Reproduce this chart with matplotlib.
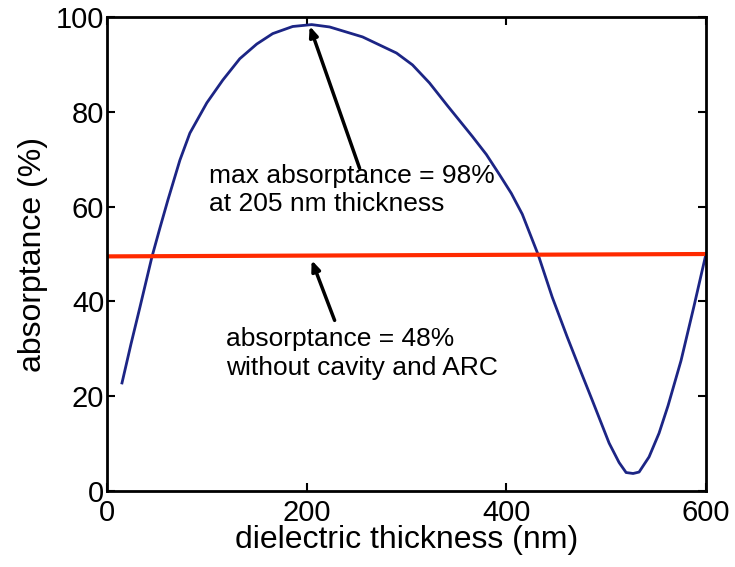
import matplotlib
matplotlib.use("Agg")
import matplotlib.pyplot as plt

plt.rcParams['font.family'] = ['Liberation Sans', 'DejaVu Sans']

# absorptance vs dielectric thickness
thickness = [15, 24, 33, 45, 53, 61, 73, 83, 100, 116, 133, 150, 166, 186, 205, 223,
             256, 290, 306, 323, 341, 366, 380, 393, 405, 416, 432, 446, 461, 475, 486,
             503, 513, 520, 527, 533, 543, 553, 562, 575, 588, 600]
absorptance = [22.8, 31.0, 38.8, 49.4, 55.5, 61.4, 69.8, 75.5, 81.9, 86.7, 91.2, 94.3,
               96.5, 98.0, 98.4, 97.9, 95.8, 92.4, 89.9, 86.1, 81.3, 74.8, 71.0, 66.8,
               62.8, 58.4, 49.8, 40.9, 32.5, 25.0, 19.2, 10.1, 6.0, 3.9, 3.7, 4.0, 7.2,
               12.2, 18.0, 27.5, 39.0, 50.0]

ref_x = [0, 600]
ref_y = [49.5, 50.0]

fig = plt.figure(figsize=(7.35, 5.67), dpi=100)
ax = fig.add_axes([0.1456, 0.134, 0.8149, 0.836])

ax.plot(thickness, absorptance, color='#1c2585', lw=2.0)
ax.plot(ref_x, ref_y, color='#ff2a00', lw=3.0)

ax.set_xlim(0, 600)
ax.set_ylim(0, 100)
ax.set_xticks([0, 200, 400, 600])
ax.set_yticks([0, 20, 40, 60, 80, 100])
ax.tick_params(direction='in', length=6, width=1.5, labelsize=21, top=True, right=True, pad=2)
ax.tick_params(axis='x', pad=6)
for s in ax.spines.values():
    s.set_linewidth(2.0)

ax.set_xlabel('dielectric thickness (nm)', fontsize=23, labelpad=-2)
ax.set_ylabel('absorptance (%)', fontsize=23, labelpad=6)

arrow = dict(arrowstyle='-|>,head_length=0.6,head_width=0.25', color='black', lw=2.5,
             shrinkA=0, shrinkB=0)
ax.annotate('', xy=(203, 98.1), xytext=(253, 68.1), arrowprops=arrow)
ax.annotate('', xy=(205, 48.7), xytext=(228, 36.0), arrowprops=arrow)

ax.text(102, 63.5, 'max absorptance = 98%\nat 205 nm thickness', fontsize=19,
        va='center', ha='left', linespacing=1.2)
ax.text(119, 29.0, 'absorptance = 48%\nwithout cavity and ARC', fontsize=19,
        va='center', ha='left', linespacing=1.25)

fig.savefig('out.png', dpi=100)
